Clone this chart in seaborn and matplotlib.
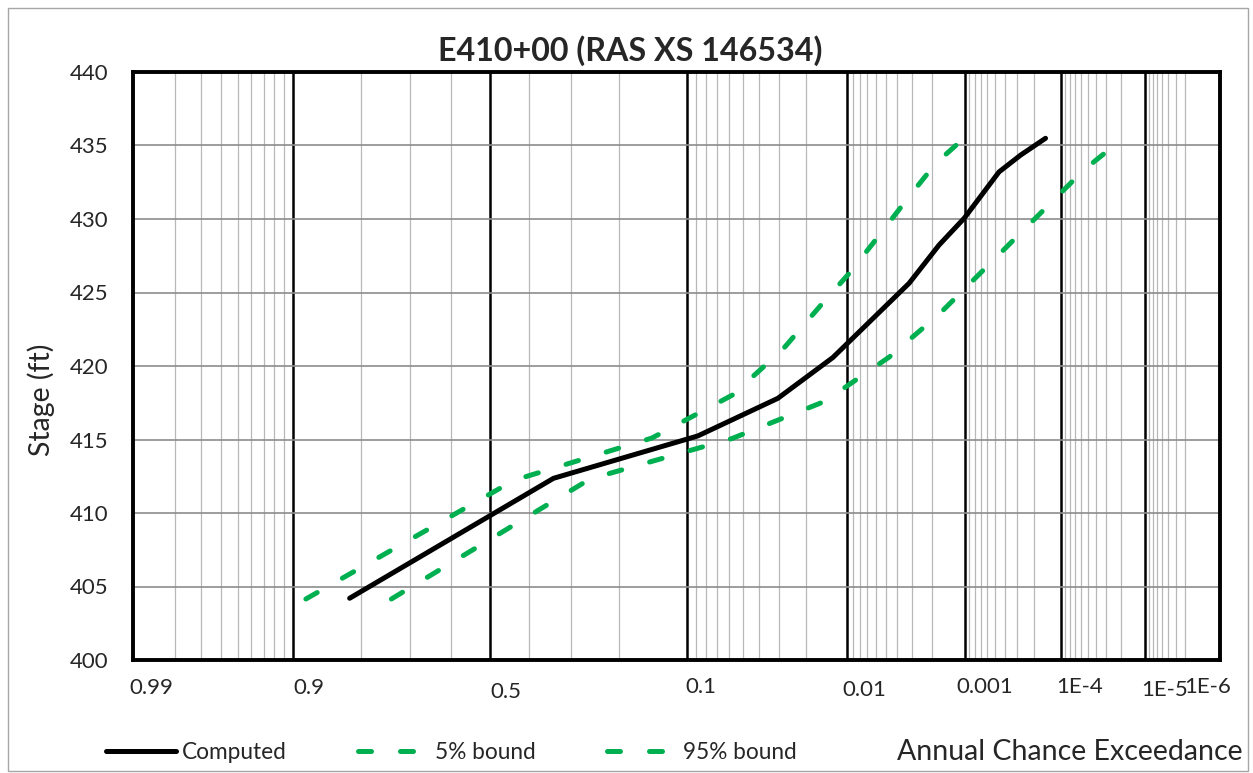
import numpy as np
import matplotlib
matplotlib.use("Agg")
import matplotlib.pyplot as plt
import matplotlib.transforms as mtransforms
from matplotlib.patches import Rectangle
import seaborn as sns
from statistics import NormalDist

# Stage-frequency curves (annual chance exceedance vs stage, ft)
ace_computed = [0.820, 0.340, 0.0882, 0.0305, 0.0128, 0.00318, 0.00173,
                0.00101, 0.00046, 0.000275, 0.000149]
stage_computed = [404.20, 412.36, 415.24, 417.80, 420.58, 425.63, 428.23,
                  430.05, 433.20, 434.35, 435.49]

ace_bound5 = [0.885, 0.438, 0.146, 0.0572, 0.0283, 0.0152, 0.00967,
              0.00618, 0.00307, 0.00185, 0.00101]
stage_bound5 = [404.15, 412.23, 415.10, 418.03, 421.14, 424.27, 426.31,
                428.46, 431.68, 433.79, 435.51]

ace_bound95 = [0.740, 0.258, 0.0575, 0.0147, 0.00467, 0.00173,
               0.0000553, 0.0000256]
stage_bound95 = [404.15, 412.31, 415.07, 417.59, 420.61, 423.52,
                 433.33, 434.88]

# Probability-paper grid
ace_major = [0.9, 0.5, 0.1, 0.01, 0.001, 1e-4, 1e-5]
ace_minor = ([0.98, 0.97, 0.96, 0.95, 0.94, 0.93, 0.92, 0.91,
              0.8, 0.7, 0.6, 0.4, 0.3, 0.2]
             + [k * 1e-2 for k in range(9, 1, -1)]
             + [k * 1e-3 for k in range(9, 1, -1)]
             + [k * 1e-4 for k in range(9, 1, -1)]
             + [k * 1e-5 for k in range(9, 1, -1)]
             + [k * 1e-6 for k in range(9, 2, -1)])
ace_tick_values = [0.99, 0.9, 0.5, 0.1, 0.01, 0.001, 1e-4, 1e-5, 1e-6]
ace_tick_labels = ["0.99", "0.9", "0.5", "0.1", "0.01", "0.001",
                   "1E-4", "1E-5", "1E-6"]
stage_ticks = [400, 405, 410, 415, 420, 425, 430, 435, 440]

# label placement offsets (pixels): horizontal from grid line, vertical below axis
label_dx = [-4, 0, 0, -1.5, -5, -8, -4.5, -4, -35.5]
label_dy = [-28, -28, -32.5, -27, -30, -27, -27, -29.5, -27]

_nd = NormalDist()


def ace_to_q(p):
    # standard normal quantile of the exceedance probability (increasing in p)
    p = np.clip(np.asarray(p, dtype=float), 1e-12, 1 - 1e-12)
    return np.vectorize(lambda v: _nd.inv_cdf(v), otypes=[float])(p)


def q_to_ace(q):
    q = np.asarray(q, dtype=float)
    return np.vectorize(lambda v: _nd.cdf(v), otypes=[float])(q)


sns.set_style("white")
plt.rcParams["font.family"] = ["Lato", "DejaVu Sans"]

W, H = 1253, 773
fig = plt.figure(figsize=(W / 100, H / 100), dpi=100)
ax = fig.add_axes([133 / W, 1 - 660 / H, (1220 - 133) / W, (660 - 72) / H])

green = "#00B050"
dash = (0, (2.6, 5.8))
sns.lineplot(x=ace_computed, y=stage_computed, ax=ax, color="black",
             linewidth=3.6, solid_capstyle="round", solid_joinstyle="round",
             label="Computed", sort=False, estimator=None, zorder=5)
sns.lineplot(x=ace_bound5, y=stage_bound5, ax=ax, color=green,
             linewidth=3.6, linestyle=dash, dash_capstyle="round",
             label="5% bound", sort=False, estimator=None, zorder=4)
sns.lineplot(x=ace_bound95, y=stage_bound95, ax=ax, color=green,
             linewidth=3.6, linestyle=dash, dash_capstyle="round",
             label="95% bound", sort=False, estimator=None, zorder=4)

handles, labels = ax.get_legend_handles_labels()
if ax.get_legend() is not None:
    ax.get_legend().remove()

ax.set_xscale("function", functions=(ace_to_q, q_to_ace))
ax.set_xlim(0.99, 1e-6)
if not ax.xaxis_inverted():
    ax.invert_xaxis()
ax.set_ylim(400, 440)

ax.set_xticks(ace_major)
ax.set_xticks(ace_minor, minor=True)
ax.tick_params(axis="x", which="both", length=0, labelbottom=False)
ax.set_yticks(stage_ticks)
ax.tick_params(axis="y", length=0, pad=18, labelsize=16)

ax.set_axisbelow(True)
ax.grid(axis="x", which="minor", color="#b8b8b8", linewidth=0.9)
ax.grid(axis="x", which="major", color="black", linewidth=1.8)
ax.grid(axis="y", which="major", color="#8c8c8c", linewidth=1.2)
for s in ax.spines.values():
    s.set_visible(True)
    s.set_color("black")
    s.set_linewidth(2.8)
ax.set_xlabel("")
ax.set_ylabel("")

# probability labels under the axis
for val, lab, dx, dy in zip(ace_tick_values, ace_tick_labels, label_dx, label_dy):
    tr = mtransforms.offset_copy(ax.get_xaxis_transform(), fig=fig,
                                 x=dx, y=dy, units="dots")
    ax.text(val, 0, lab, transform=tr, ha="left", va="center",
            fontsize=16, clip_on=False)

fig.text(630 / W, 1 - 51 / H, "E410+00 (RAS XS 146534)", ha="center",
         va="center", fontsize=23.2, fontweight="bold")
fig.text(41 / W, 1 - 400 / H, "Stage (ft)", rotation=90, ha="center",
         va="center", fontsize=20.5)
fig.text(1243 / W, 1 - 760 / H, "Annual Chance Exceedance", ha="right",
         va="baseline", fontsize=20.5)

fig.legend(handles, labels, loc="center left",
           bbox_to_anchor=(106 / W, 1 - 752.5 / H), ncol=3, frameon=False,
           fontsize=16.3, handlelength=3.1, handletextpad=0.27,
           columnspacing=3.15, borderpad=0, borderaxespad=0)

fig.add_artist(Rectangle((8 / W, 1 - 771 / H), (1248 - 8) / W, (771 - 8) / H,
                         transform=fig.transFigure, fill=False,
                         edgecolor="#a6a6a6", linewidth=1))

fig.savefig("out.png", dpi=100)
